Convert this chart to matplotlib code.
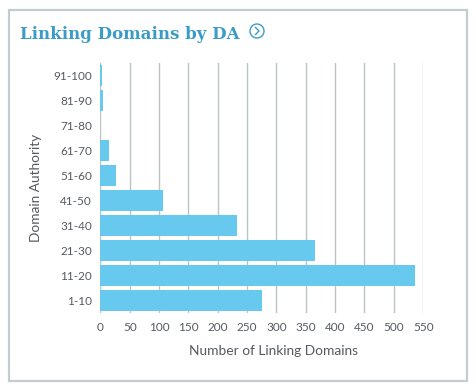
import matplotlib
matplotlib.use("Agg")
import matplotlib.pyplot as plt
from matplotlib.patches import Ellipse, Rectangle

# data
categories = ["1-10", "11-20", "21-30", "31-40", "41-50",
              "51-60", "61-70", "71-80", "81-90", "91-100"]
domains = [276, 536, 365, 232, 106, 27, 14, 0, 4, 2]
x_ticks = [0, 50, 100, 150, 200, 250, 300, 350, 400, 450, 500, 550]

bar_color = "#68c9ef"
grid_color = "#bcc3c4"
text_color = "#555a60"
title_color = "#3b9cc6"

plt.rcParams["font.family"] = ["Lato", "DejaVu Sans"]

fig = plt.figure(figsize=(4.76, 3.87), dpi=100)
ax = fig.add_axes([0.211, 0.192, 0.678, 0.644])

ax.barh(range(len(categories)), domains, height=0.84, color=bar_color, zorder=2)
ax.set_ylim(-0.5, len(categories) - 0.5)
ax.set_xlim(0, 550)
ax.set_yticks(range(len(categories)))
ax.set_yticklabels(categories)
ax.set_xticks(x_ticks)
ax.tick_params(length=0, labelsize=8.5, colors=text_color, pad=6)
ax.tick_params(axis="x", pad=7)
ax.grid(axis="x", color=grid_color, linewidth=1, zorder=0)
for s in ax.spines.values():
    s.set_visible(False)
ax.set_xlabel("Number of Linking Domains", fontsize=9.9, color=text_color)
ax.xaxis.set_label_coords(0.537, -0.128)
ax.set_ylabel("Domain Authority", fontsize=9.8, color=text_color, labelpad=8)

# card border
fig.add_artist(Rectangle((9 / 476, 6 / 387), 458 / 476, 371 / 387,
                         transform=fig.transFigure, fill=False,
                         edgecolor="#c3cccf", linewidth=1.6))

fig.text(20 / 476, 1 - 39 / 387, "Linking Domains by DA", fontsize=12.0,
         fontweight="bold", family="DejaVu Serif", color=title_color,
         va="baseline", ha="left")
# little circled chevron next to the title
cx, cy = 257 / 476, 1 - 31 / 387
fig.add_artist(Ellipse((cx, cy), 14 / 476, 14 / 387,
                       transform=fig.transFigure, fill=False,
                       edgecolor=title_color, linewidth=1))
fig.add_artist(plt.Line2D([cx - 1.5 / 476, cx + 2 / 476, cx - 1.5 / 476],
                          [cy + 3.5 / 387, cy, cy - 3.5 / 387],
                          transform=fig.transFigure, color=title_color, linewidth=1))

fig.savefig("out.png", dpi=100)
